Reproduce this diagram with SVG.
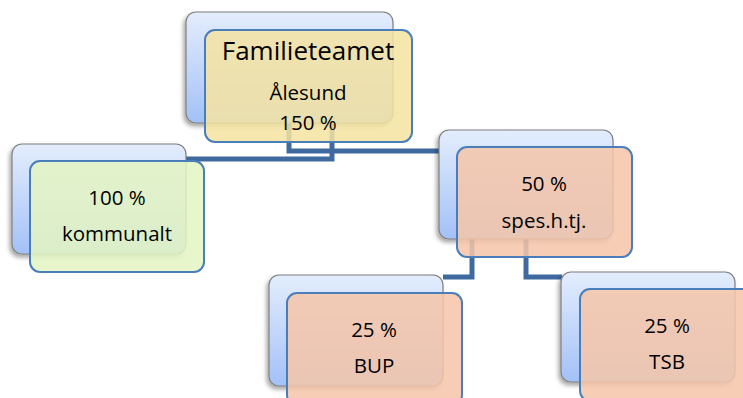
<svg xmlns="http://www.w3.org/2000/svg" width="743" height="398" viewBox="0 0 743 398">
<defs>
<linearGradient id="bg" x1="0" y1="0" x2="0" y2="1">
<stop offset="0" stop-color="#E3EDFD"/>
<stop offset="1" stop-color="#A3C1F7"/>
</linearGradient>
<filter id="sh" x="-20%" y="-20%" width="140%" height="150%">
<feDropShadow dx="-2" dy="3" stdDeviation="2" flood-color="#000" flood-opacity="0.35"/>
</filter>
</defs>
<style>
.back{fill:url(#bg);stroke:#7F7F7F;stroke-width:1.2;filter:url(#sh)}
.front{stroke:#4A7EBB;stroke-width:2;fill-opacity:0.86}
.y{fill:#F4E3A2}
.g{fill:#E4F5C2}
.s{fill:#F6C6A9}
.conn{fill:none;stroke:#3F6AA0;stroke-width:5}
text{font-family:"Open Sans",Lato,"Liberation Sans",sans-serif;fill:#000;text-anchor:middle}
.t{font-size:26px}
.m{font-size:20.5px}
</style>
<g id="connectors">
<path class="conn" d="M289,123 V151 H440"/>
<path class="conn" d="M332,123 V159 H186"/>
<path class="conn" d="M472,239 V277 H443"/>
<path class="conn" d="M526,239 V277 H562"/>
</g>
<g id="familieteamet">
<rect class="back" x="186" y="12" width="207" height="111" rx="10"/>
<rect class="front y" x="205" y="30" width="207" height="112" rx="10"/>
<text class="t" x="308" y="60">Familieteamet</text>
<text class="m" x="308" y="100">Ålesund</text>
<text class="m" x="308" y="130">150 %</text>
</g>
<g id="kommunalt">
<rect class="back" x="12" y="144" width="174" height="110" rx="10"/>
<rect class="front g" x="30" y="161" width="174" height="111" rx="10"/>
<text class="m" x="117" y="205">100 %</text>
<text class="m" x="117" y="241">kommunalt</text>
</g>
<g id="spes">
<rect class="back" x="439" y="130" width="174" height="109" rx="10"/>
<rect class="front s" x="457" y="147" width="175" height="110" rx="10"/>
<text class="m" x="544" y="191">50 %</text>
<text class="m" x="544" y="228">spes.h.tj.</text>
</g>
<g id="bup">
<rect class="back" x="269" y="275" width="174" height="111" rx="10"/>
<rect class="front s" x="287" y="293" width="175" height="112" rx="10"/>
<text class="m" x="374" y="337">25 %</text>
<text class="m" x="374" y="373">BUP</text>
</g>
<g id="tsb">
<rect class="back" x="561" y="272" width="174" height="110" rx="10"/>
<rect class="front s" x="580" y="289" width="175" height="112" rx="10"/>
<text class="m" x="667" y="333">25 %</text>
<text class="m" x="667" y="369">TSB</text>
</g>
</svg>
